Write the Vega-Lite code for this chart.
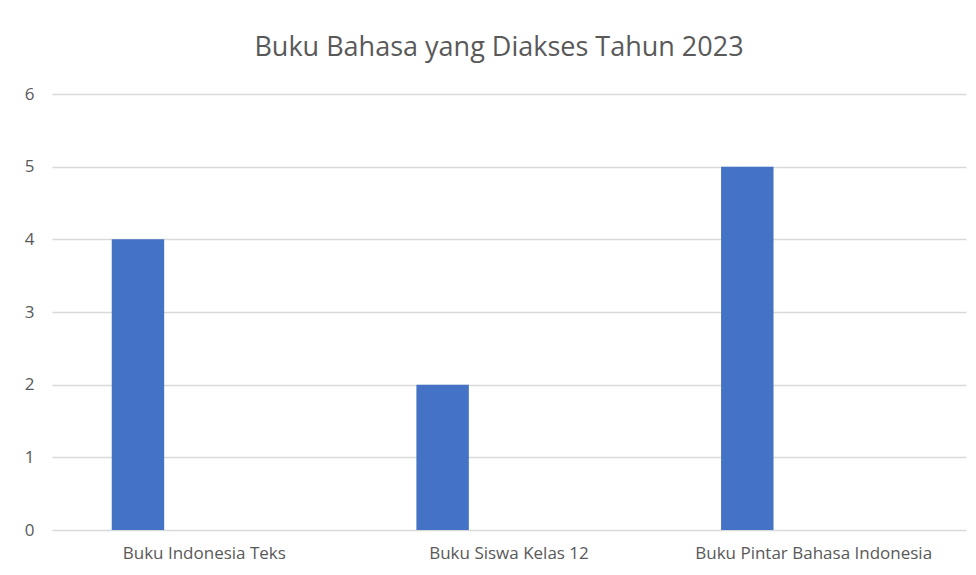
{
  "$schema": "https://vega.github.io/schema/vega-lite/v6.json",
  "autosize": "none",
  "width": 914,
  "height": 436,
  "padding": {"left": 52, "top": 94, "right": 10, "bottom": 45},
  "background": "white",
  "title": {
    "text": "Buku Bahasa yang Diakses Tahun 2023",
    "font": "Open Sans",
    "fontSize": 27,
    "fontWeight": "normal",
    "color": "#595959",
    "anchor": "middle",
    "dx": -10,
    "offset": 23
  },
  "data": {
    "values": [
      {"buku": "Buku Indonesia Teks", "seri": "Seri 1", "jumlah": 4},
      {"buku": "Buku Siswa Kelas 12", "seri": "Seri 1", "jumlah": 2},
      {"buku": "Buku Pintar Bahasa Indonesia", "seri": "Seri 1", "jumlah": 5}
    ]
  },
  "mark": {"type": "bar", "color": "#4472C4"},
  "encoding": {
    "x": {
      "field": "buku",
      "type": "nominal",
      "sort": null,
      "scale": {"paddingInner": 0, "paddingOuter": 0},
      "axis": {
        "title": null,
        "labelAngle": 0,
        "labelFont": "Open Sans",
        "labelFontSize": 17,
        "labelColor": "#595959",
        "labelPadding": 15,
        "labelLimit": 0,
        "ticks": false,
        "domain": false,
        "grid": false
      }
    },
    "xOffset": {
      "field": "seri",
      "type": "nominal",
      "scale": {"domain": ["Seri 1", "Seri 2"], "paddingInner": 0.605, "paddingOuter": 0.45}
    },
    "y": {
      "field": "jumlah",
      "type": "quantitative",
      "scale": {"domain": [0, 6], "nice": false},
      "axis": {
        "title": null,
        "values": [0, 1, 2, 3, 4, 5, 6],
        "labelFont": "Open Sans",
        "labelFontSize": 17,
        "labelColor": "#595959",
        "labelPadding": 18,
        "ticks": false,
        "domain": false,
        "grid": true,
        "gridColor": "#d9d9d9",
        "gridWidth": 1.5
      }
    }
  },
  "config": {"view": {"stroke": null}}
}
